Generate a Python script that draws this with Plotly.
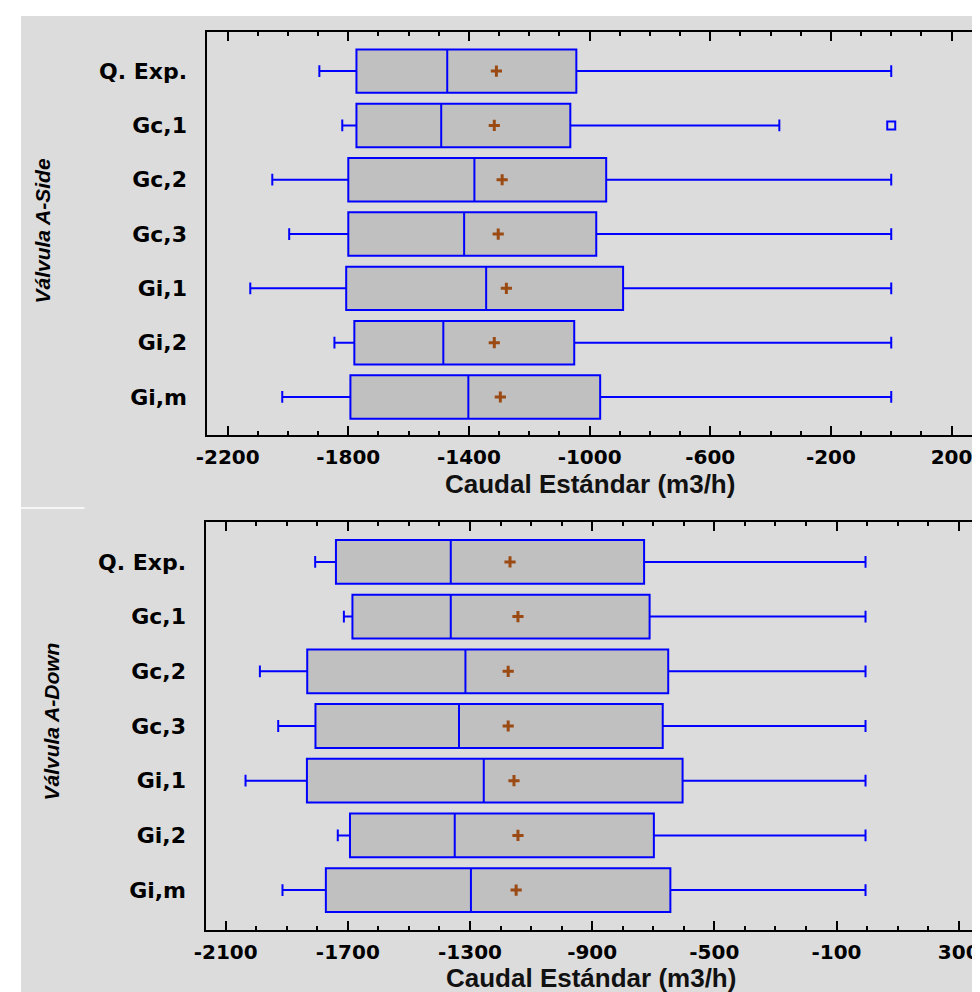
import plotly.graph_objects as go

# page body has an 8px margin, so the figure is 8px smaller and coords shifted
OFF = 8
W, H = 980 - OFF, 992 - OFF
# measured horizontal offset / scale of the photographed page
X_SHIFT, X_SCALE = 12.6, 0.984

categories = ["Q. Exp.", "Gc,1", "Gc,2", "Gc,3", "Gi,1", "Gi,2", "Gi,m"]

# Válvula A-Side
side_low = [-1896, -1820, -2052, -1996, -2125, -1846, -2019]
side_q1 = [-1773, -1773, -1800, -1800, -1807, -1780, -1793]
side_med = [-1472, -1492, -1382, -1416, -1343, -1485, -1402]
side_q3 = [-1044, -1064, -945, -978, -889, -1051, -965]
side_high = [0, -371, 0, 0, 0, 0, 0]
side_mean = [-1309, -1316, -1290, -1303, -1276, -1316, -1296]
side_out_cat = ["Gc,1"]
side_out_val = [0]

# Válvula A-Down
down_low = [-1807, -1713, -1988, -1928, -2035, -1733, -1914]
down_q1 = [-1739, -1685, -1833, -1806, -1834, -1693, -1772]
down_med = [-1363, -1363, -1315, -1336, -1255, -1350, -1297]
down_q3 = [-730, -712, -651, -669, -604, -698, -644]
down_high = [-5, -5, -5, -5, -5, -5, -5]
down_mean = [-1169, -1143, -1175, -1175, -1156, -1143, -1149]

side_ticks = [-2200, -1800, -1400, -1000, -600, -200, 200]
side_ticktext = ["-2200", "-1800", "-1400", "-1000", "-600", "-200", "200"]
down_ticks = [-2100, -1700, -1300, -900, -500, -100, 300]
down_ticktext = ["-2100", "-1700", "-1300", "-900", "-500", "-100", "300"]

BLUE = "#0000ff"
BROWN = "#9a4a12"
GRAY_BG = "#dcdcdc"
XTICK_FONT = dict(family="DejaVu Sans", size=20, color="black", weight="bold")
YTICK_FONT = dict(family="DejaVu Sans", size=22, color="black", weight="bold")


def fx(p):
    v = ((p - X_SHIFT) / X_SCALE - OFF) / W
    return min(1.0, max(0.0, v))


def fy(p):
    return 1 - (p - OFF) / H


fig = go.Figure()

panels = [
    ("x", "y", side_low, side_q1, side_med, side_q3, side_high, side_mean),
    ("x2", "y2", down_low, down_q1, down_med, down_q3, down_high, down_mean),
]
for xa, ya, lo, q1, med, q3, hi, mean in panels:
    fig.add_trace(go.Box(
        y=categories, lowerfence=lo, q1=q1, median=med, q3=q3, upperfence=hi,
        orientation="h", fillcolor="#c0c0c0", line=dict(color=BLUE, width=2),
        width=0.8, whiskerwidth=0.27, boxpoints=False, showlegend=False,
        xaxis=xa, yaxis=ya, hoverinfo="skip",
    ))
    fig.add_trace(go.Scatter(
        x=mean, y=categories, mode="markers", showlegend=False,
        marker=dict(symbol="cross-thin", size=8, line=dict(color=BROWN, width=3)),
        xaxis=xa, yaxis=ya,
    ))

fig.add_trace(go.Scatter(
    x=side_out_val, y=side_out_cat, mode="markers", showlegend=False,
    marker=dict(symbol="square-open", size=8, color=BLUE, line=dict(width=2)),
    xaxis="x", yaxis="y",
))

xcommon = dict(
    showline=True, linecolor="black", linewidth=2, mirror="allticks",
    ticks="inside", ticklen=9, tickwidth=2, tickcolor="black",
    showgrid=False, zeroline=False, tickfont=XTICK_FONT,
    tickmode="array", ticklabelstandoff=3, ticklabeloverflow="allow",
    minor=dict(ticks="inside", ticklen=4, tickwidth=2, tickcolor="black", dtick=100, tick0=0),
)
ycommon = dict(
    type="category", categoryorder="array", categoryarray=categories,
    showline=True, linecolor="black", linewidth=2, mirror=True,
    ticks="", showgrid=False, zeroline=False, tickfont=YTICK_FONT,
    ticklabelstandoff=14,
)

fig.update_layout(
    width=W, height=H, margin=dict(l=0, r=0, t=0, b=0),
    paper_bgcolor="white", plot_bgcolor="white",
    xaxis=dict(xcommon, domain=[fx(207), fx(972)], range=[-2267, 268],
               tickvals=side_ticks, ticktext=side_ticktext, anchor="y"),
    yaxis=dict(ycommon, domain=[fy(435), fy(32)], range=[6.70, -0.72], anchor="x"),
    xaxis2=dict(xcommon, domain=[fx(206), fx(977)], range=[-2163, 360],
                tickvals=down_ticks, ticktext=down_ticktext, anchor="y2"),
    yaxis2=dict(ycommon, domain=[fy(930), fy(522)], range=[6.73, -0.73], anchor="x2"),
    shapes=[
        dict(type="rect", xref="paper", yref="paper", x0=fx(8), x1=1, y0=0, y1=fy(16),
             fillcolor=GRAY_BG, line=dict(width=0), layer="below"),
        dict(type="line", xref="paper", yref="paper", x0=fx(8), x1=fx(84), y0=fy(508), y1=fy(508),
             line=dict(color="white", width=1.5)),
    ],
)

title_font = dict(family="Liberation Sans, Arial", size=26, color="#111111", weight="bold")
ytitle_font = dict(family="Liberation Sans, Arial", size=21, color="black",
                   weight="bold", style="italic")
annots = [
    ("Caudal Estándar (m3/h)", 590, 484, 0, title_font),
    ("Caudal Estándar (m3/h)", 591, 978, 0, title_font),
    ("Válvula A-Side", 42, 231, -90, ytitle_font),
    ("Válvula A-Down", 50, 722, -90, ytitle_font),
]
for text, px_x, px_y, ang, font in annots:
    fig.add_annotation(text=text, xref="paper", yref="paper", x=fx(px_x), y=fy(px_y),
                       xanchor="center", yanchor="middle", showarrow=False,
                       textangle=ang, font=font)

fig.write_html("out.html")
